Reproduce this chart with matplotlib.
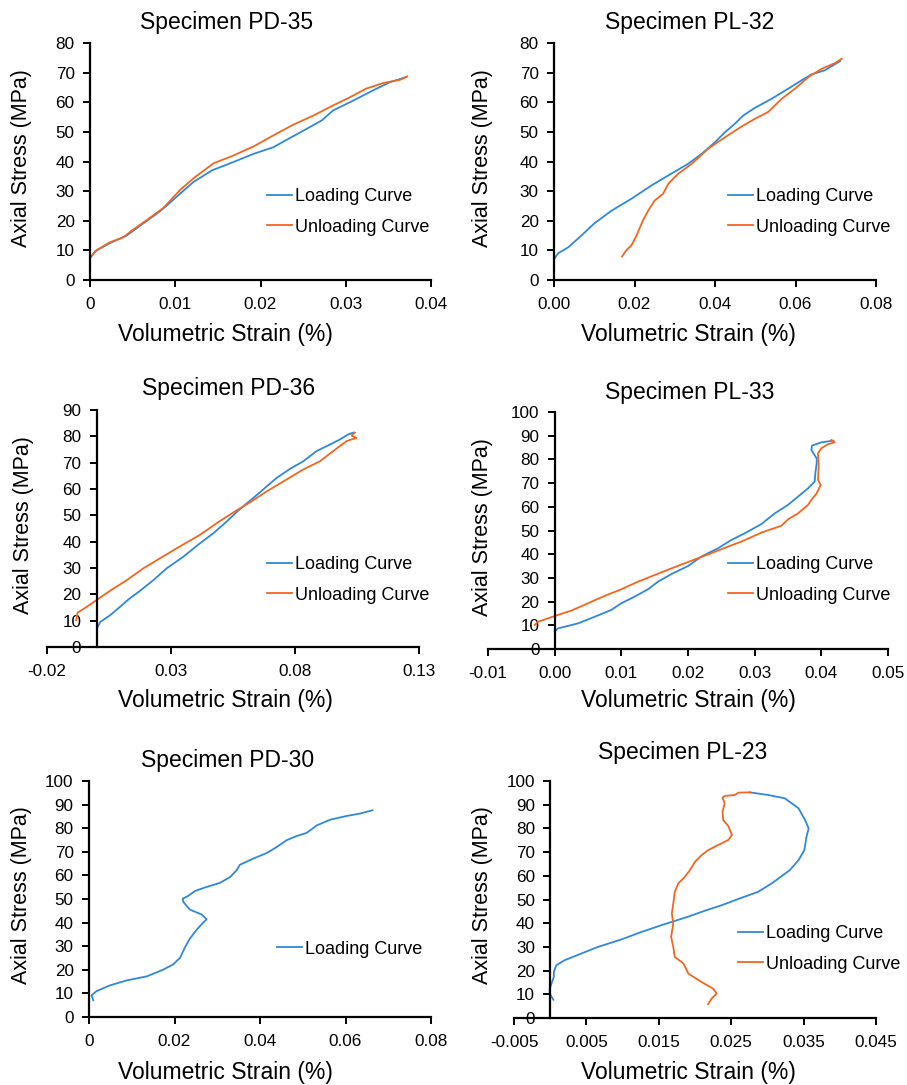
import matplotlib.pyplot as plt
from matplotlib.ticker import FixedLocator, FixedFormatter

plt.rcParams['font.family'] = ['Liberation Sans', 'DejaVu Sans']

W, H = 907, 1085
BLUE = '#2f88da'
ORANGE = '#f2661f'

# PD-35
pd35_load_x = [0.0001, 0.0006, 0.0023, 0.0043, 0.0059, 0.0078, 0.0088, 0.0102, 0.0121, 0.0143, 0.0168,
               0.0192, 0.0215, 0.0235, 0.0254, 0.0272, 0.0285, 0.0309, 0.0332, 0.0352, 0.0371]
pd35_load_y = [7.7, 9.7, 12.4, 15.0, 18.4, 22.3, 24.6, 28.2, 33.0, 37.0, 39.8,
               42.6, 44.8, 48.0, 51.0, 53.9, 57.2, 60.6, 64.0, 66.8, 68.5]
pd35_unload_x = [0.0001, 0.0008, 0.0023, 0.0039, 0.0049, 0.0063, 0.0086, 0.0096, 0.0106, 0.0123, 0.0145,
                 0.0168, 0.0192, 0.0215, 0.0239, 0.0262, 0.0285, 0.0305, 0.0324, 0.0344, 0.0364, 0.0372]
pd35_unload_y = [7.9, 10.1, 12.7, 14.4, 16.7, 19.5, 24.3, 27.4, 30.5, 34.7, 39.4,
                 42.0, 45.1, 48.8, 52.5, 55.5, 58.9, 61.7, 64.6, 66.5, 67.6, 68.7]

# PL-32
pl32_load_x = [0.0002, 0.0010, 0.0035, 0.0068, 0.0101, 0.0143, 0.0192, 0.0242, 0.0284, 0.0333, 0.0367,
               0.0400, 0.0425, 0.0449, 0.0470, 0.0499, 0.0541, 0.0582, 0.0615, 0.0640, 0.0673, 0.0711]
pl32_load_y = [7.4, 9.0, 11.0, 15.0, 19.2, 23.4, 27.4, 31.9, 35.3, 39.2, 42.6,
               46.5, 49.9, 52.7, 55.5, 58.1, 61.2, 64.6, 67.4, 69.4, 70.8, 73.9]
pl32_unload_x = [0.0169, 0.0180, 0.0192, 0.0205, 0.0221, 0.0234, 0.0250, 0.0271, 0.0284, 0.0308, 0.0342,
                 0.0383, 0.0425, 0.0466, 0.0499, 0.0532, 0.0566, 0.0599, 0.0632, 0.0665, 0.0698, 0.0715]
pl32_unload_y = [7.9, 10.1, 11.6, 15.0, 20.1, 23.4, 26.8, 29.1, 32.5, 35.8, 39.2,
                 44.3, 48.2, 51.8, 54.4, 56.7, 61.2, 64.6, 68.5, 71.3, 73.2, 74.7]

# PD-36
pd36_load_x = [0.0004, 0.0015, 0.0055, 0.0095, 0.0129, 0.0176, 0.0229, 0.0283, 0.0350, 0.0417, 0.0471, 0.0525,
               0.0578, 0.0632, 0.0686, 0.0726, 0.0779, 0.0833, 0.0887, 0.0941, 0.0981, 0.1014, 0.1034]
pd36_load_y = [7.6, 9.5, 12.1, 15.3, 18.1, 21.4, 25.4, 29.9, 34.3, 39.4, 43.2, 47.7,
               52.4, 56.6, 61.0, 64.2, 67.6, 70.5, 74.4, 76.9, 78.8, 80.7, 81.4]
pd36_unload_x = [-0.0082, -0.0077, -0.0039, 0.0004, 0.0055, 0.0122, 0.0189, 0.0256, 0.0323, 0.0417, 0.0484,
                 0.0551, 0.0618, 0.0686, 0.0766, 0.0833, 0.0900, 0.0954, 0.1008, 0.1048, 0.1028, 0.1041]
pd36_unload_y = [10.2, 13.0, 15.3, 18.1, 21.4, 25.4, 29.9, 33.7, 37.5, 42.6, 47.0,
                 51.1, 54.9, 59.1, 63.6, 67.4, 70.5, 74.4, 78.2, 79.4, 80.3, 81.4]

# PL-33
pl33_load_x = [0.0, 0.0005, 0.0015, 0.0035, 0.006, 0.0085, 0.010, 0.012, 0.014, 0.0155, 0.0175, 0.020,
               0.022, 0.0245, 0.0265, 0.0285, 0.031, 0.033, 0.035, 0.0365, 0.038, 0.039, 0.0391,
               0.0393, 0.0393, 0.0385, 0.0386, 0.040, 0.0418]
pl33_load_y = [7.3, 8.7, 9.4, 10.8, 13.6, 16.5, 19.3, 22.1, 25.2, 28.4, 31.6, 35.0,
               39.0, 42.5, 46.0, 48.8, 52.7, 57.2, 60.8, 64.3, 67.8, 70.6, 74.1,
               78.3, 80.4, 84.0, 85.8, 87.2, 87.9]
pl33_unload_x = [-0.003, -0.0025, 0.0, 0.0025, 0.005, 0.0075, 0.010, 0.0125, 0.015, 0.0175, 0.020, 0.023,
                 0.026, 0.028, 0.031, 0.034, 0.035, 0.0365, 0.038, 0.0385, 0.0393, 0.0399, 0.0395,
                 0.0396, 0.0395, 0.040, 0.041, 0.042, 0.0415]
pl33_unload_y = [10.1, 11.5, 13.9, 16.2, 19.3, 22.4, 25.2, 28.4, 31.2, 34.0, 36.7, 39.9,
                 43.2, 45.3, 49.1, 52.0, 54.7, 57.2, 60.8, 62.9, 65.7, 69.2, 71.3,
                 76.9, 82.6, 84.7, 86.4, 87.2, 88.2]

# PD-30 (loading only)
pd30_load_x = [0.0010, 0.0006, 0.0018, 0.0049, 0.0088, 0.0135, 0.0174, 0.0197, 0.0213, 0.0225, 0.0236, 0.0252,
               0.0267, 0.0275, 0.0264, 0.0236, 0.0221, 0.0219, 0.0232, 0.0248, 0.0275, 0.0306, 0.0330,
               0.0345, 0.0353, 0.0384, 0.0416, 0.0439, 0.0462, 0.0486, 0.0509, 0.0533, 0.0564, 0.0603,
               0.0634, 0.0663]
pd30_load_y = [7.1, 9.2, 11.0, 13.4, 15.5, 17.2, 20.1, 22.3, 25.1, 29.7, 33.2, 37.0,
               40.0, 41.4, 43.4, 45.5, 48.7, 50.1, 51.3, 53.4, 55.1, 56.8, 59.3,
               62.1, 64.5, 67.1, 69.5, 72.0, 74.9, 76.7, 78.0, 81.2, 83.6, 85.2,
               86.2, 87.6]

# PL-23
pl23_load_x = [0.00044, -0.00007, -0.00007, 0.00025, 0.0005, 0.0005, 0.00085, 0.0020, 0.0043, 0.0066, 0.0098,
               0.0126, 0.0154, 0.0190, 0.0213, 0.0237, 0.0264, 0.0287, 0.0306, 0.0331, 0.0343, 0.0351,
               0.0354, 0.0357, 0.0352, 0.0343, 0.0324, 0.0301, 0.0276]
pl23_load_y = [7.7, 10.3, 12.4, 15.2, 17.3, 19.4, 22.3, 24.4, 27.2, 30.0, 33.1,
               36.3, 39.2, 42.7, 45.2, 47.6, 50.7, 53.2, 56.8, 62.4, 66.6, 70.8,
               76.5, 80.0, 83.5, 88.5, 92.7, 94.1, 95.2]
pl23_unload_x = [0.0276, 0.0260, 0.0255, 0.0241, 0.0238, 0.0241, 0.0238, 0.0239, 0.0246, 0.0251, 0.0246,
                 0.0232, 0.0218, 0.0209, 0.0200, 0.0193, 0.0186, 0.0177, 0.0172, 0.0170, 0.0168, 0.0170,
                 0.0167, 0.0170, 0.0172, 0.0184, 0.0191, 0.0209, 0.0225, 0.0230, 0.0223, 0.0218]
pl23_unload_y = [95.2, 95.1, 94.1, 93.7, 93.0, 90.6, 87.0, 83.5, 81.0, 77.2, 75.1,
                 73.0, 70.8, 68.7, 65.9, 62.4, 59.6, 56.8, 53.2, 48.3, 44.1, 39.9,
                 34.2, 30.0, 25.8, 23.0, 18.7, 15.2, 12.4, 10.3, 8.2, 5.8]

labels = ['Loading Curve', 'Unloading Curve']


def fx(px):
    return px / W


def fy(py):
    return 1 - py / H


fig = plt.figure(figsize=(W / 100, H / 100), dpi=100)

# each panel: title, axes box (px), x range, ticks, tick labels, y range, curves, text positions
panels = [
    dict(title='Specimen PD-35', box=(90, 43, 431, 280), xlim=(0, 0.04),
         xticks=[0, 0.01, 0.02, 0.03, 0.04], xfmt='{:g}', ylim=(0, 80), ystep=10, yzero=False,
         curves=[(pd35_load_x, pd35_load_y), (pd35_unload_x, pd35_unload_y)],
         tpos=(227, 23), xlpos=(225, 335), ylpos=(22, 158), leg=(267, 212)),
    dict(title='Specimen PL-32', box=(554, 43, 876, 280), xlim=(0, 0.08),
         xticks=[0, 0.02, 0.04, 0.06, 0.08], xfmt='{:.2f}', ylim=(0, 80), ystep=10, yzero=False,
         curves=[(pl32_load_x, pl32_load_y), (pl32_unload_x, pl32_unload_y)],
         tpos=(690, 23), xlpos=(688, 335), ylpos=(483, 158), leg=(728, 212)),
    dict(title='Specimen PD-36', box=(47, 410, 419, 647), xlim=(-0.02, 0.13),
         xticks=[-0.02, 0.03, 0.08, 0.13], xfmt='{:.2f}', ylim=(0, 90), ystep=10, yzero=True,
         curves=[(pd36_load_x, pd36_load_y), (pd36_unload_x, pd36_unload_y)],
         tpos=(229, 388), xlpos=(225, 700), ylpos=(24, 525), leg=(267, 580)),
    dict(title='Specimen PL-33', box=(488, 412, 888, 649), xlim=(-0.01, 0.05),
         xticks=[-0.01, 0, 0.01, 0.02, 0.03, 0.04, 0.05], xfmt='{:.2f}', ylim=(0, 100), ystep=10, yzero=True,
         curves=[(pl33_load_x, pl33_load_y), (pl33_unload_x, pl33_unload_y)],
         tpos=(690, 392), xlpos=(688, 700), ylpos=(483, 527), leg=(728, 580)),
    dict(title='Specimen PD-30', box=(89, 781, 431, 1017), xlim=(0, 0.08),
         xticks=[0, 0.02, 0.04, 0.06, 0.08], xfmt='{:g}', ylim=(0, 100), ystep=10, yzero=False,
         curves=[(pd30_load_x, pd30_load_y)],
         tpos=(228, 761), xlpos=(225, 1072), ylpos=(22, 895), leg=(277, 949)),
    dict(title='Specimen PL-23', box=(514, 781, 876, 1018), xlim=(-0.005, 0.045),
         xticks=[-0.005, 0.005, 0.015, 0.025, 0.035, 0.045], xfmt='{:.3f}', ylim=(0, 100), ystep=10,
         yzero=True,
         curves=[(pl23_load_x, pl23_load_y), (pl23_unload_x, pl23_unload_y)],
         tpos=(683, 753), xlpos=(688, 1072), ylpos=(483, 895), leg=(738, 949)),
]

for p in panels:
    l, t, r, b = p['box']
    ax = fig.add_axes([fx(l), fy(b), (r - l) / W, (b - t) / H])
    for (xs, ys), c, lab in zip(p['curves'], [BLUE, ORANGE], labels):
        ax.plot(xs, ys, color=c, lw=1.3, label=lab, solid_joinstyle='round')
    ax.set_xlim(*p['xlim'])
    ax.set_ylim(*p['ylim'])

    ax.xaxis.set_major_locator(FixedLocator(p['xticks']))
    ax.xaxis.set_major_formatter(FixedFormatter([p['xfmt'].format(v) for v in p['xticks']]))
    yt = list(range(p['ylim'][0], p['ylim'][1] + 1, p['ystep']))
    ax.set_yticks(yt)

    for s in ['top', 'right']:
        ax.spines[s].set_visible(False)
    for s in ['left', 'bottom']:
        ax.spines[s].set_linewidth(1.6)
        ax.spines[s].set_color('black')
    if p['yzero']:
        ax.spines['left'].set_position(('data', 0))
    ax.tick_params(direction='out', length=5, width=1.4, labelsize=12.3, colors='black')
    ax.tick_params(axis='x', pad=7)
    ax.tick_params(axis='y', pad=6)
    ax.patch.set_alpha(0)

    fig.text(fx(p['tpos'][0]), fy(p['tpos'][1]), p['title'], fontsize=16.5, ha='center', va='center')
    fig.text(fx(p['xlpos'][0]), fy(p['xlpos'][1]), 'Volumetric Strain (%)', fontsize=16.5,
             ha='center', va='center')
    fig.text(fx(p['ylpos'][0]), fy(p['ylpos'][1]), 'Axial Stress (MPa)', fontsize=15.5,
             ha='center', va='center', rotation=90)

    ax.legend(loc='center left', bbox_to_anchor=(fx(p['leg'][0]), fy(p['leg'][1])),
              bbox_transform=fig.transFigure, frameon=False, fontsize=13, borderpad=0,
              borderaxespad=0, handlelength=1.4, handletextpad=0.15, labelspacing=0.75)

fig.savefig('out.png', dpi=100)
